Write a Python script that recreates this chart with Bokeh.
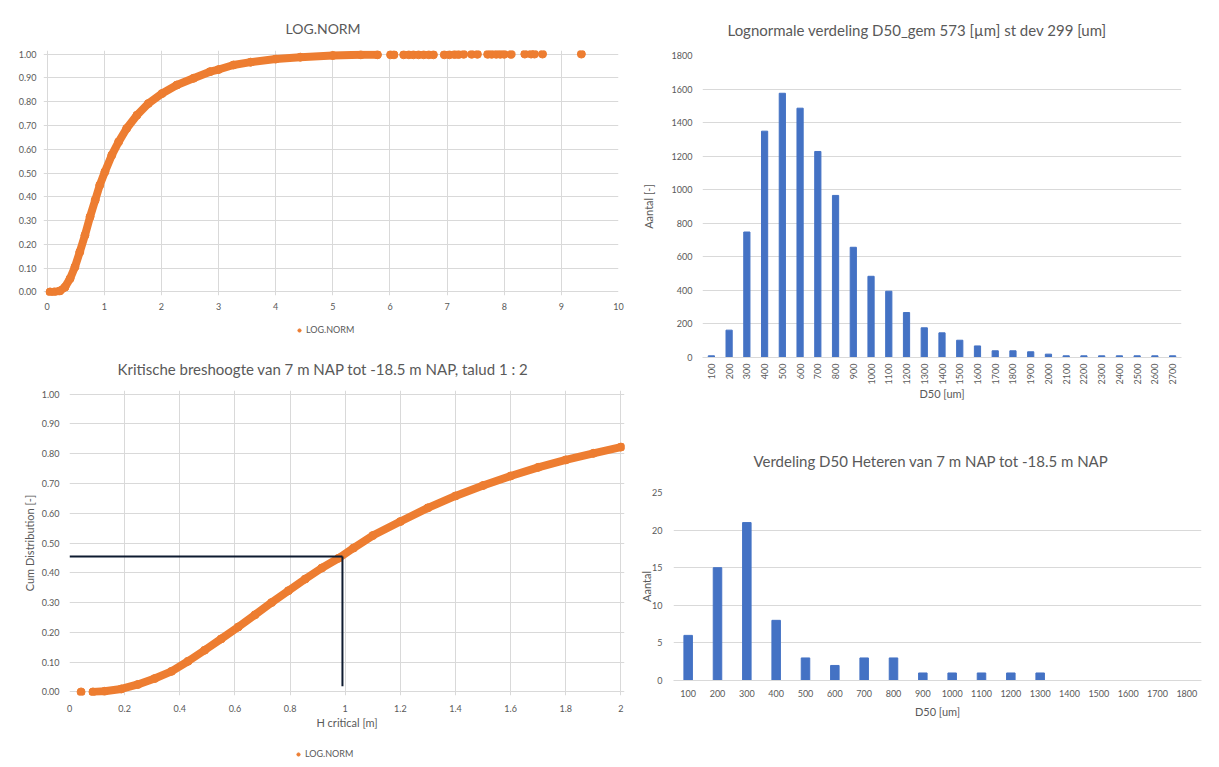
from bokeh.plotting import figure
from bokeh.layouts import row, column
from bokeh.models import (Range1d, FactorRange, NumeralTickFormatter, Legend, LegendItem,
                          Title, FixedTicker)
from bokeh.embed import file_html
from bokeh.resources import INLINE

FONT = "Lato"
TXT = "#595959"
GRID = "#d9d9d9"
ORANGE = "#ed7d31"
BLUE = "#4472c4"
DARK = "#0e1b30"

# ---------------- data ----------------
# top-left: LOG.NORM cumulative (dense part)
tl_x = [0.05, 0.12, 0.22, 0.31, 0.40, 0.485, 0.57, 0.66, 0.75, 0.84, 0.92, 1.01, 1.13, 1.25,
        1.39, 1.57, 1.77, 2.01, 2.27, 2.56, 2.85, 3.0, 3.26, 3.56, 4.0, 4.43, 5.0, 5.49, 5.78]
tl_y = [0.0, 0.0, 0.004, 0.02, 0.056, 0.105, 0.168, 0.238, 0.316, 0.386, 0.449, 0.505, 0.575, 0.631,
        0.687, 0.743, 0.792, 0.834, 0.870, 0.898, 0.926, 0.935, 0.954, 0.966, 0.979, 0.987, 0.994, 0.997, 0.997]
# top-left: sparse tail points
tl_tail_x = [6.01, 6.07, 6.24, 6.33, 6.41, 6.5, 6.59, 6.68, 6.76, 6.95, 7.04, 7.13, 7.2, 7.29,
             7.43, 7.53, 7.71, 7.78, 7.86, 7.93, 8.0, 8.12, 8.36, 8.47, 8.53, 8.67, 9.35]
tl_tail_y = [0.997, 0.997, 0.997, 0.997, 0.997, 0.997, 0.997, 0.997, 0.997, 0.997, 0.997, 0.998, 0.998, 0.999,
             0.999, 0.999, 0.999, 0.999, 0.999, 0.999, 0.999, 0.999, 1.0, 1.0, 1.0, 1.0, 1.0]

# bottom-left: H critical cumulative distribution
bl_x = [0.042, 0.085, 0.127, 0.188, 0.248, 0.309, 0.37, 0.43, 0.49, 0.55, 0.612, 0.673, 0.733, 0.794,
        0.855, 0.915, 0.976, 1.03, 1.1, 1.2, 1.3, 1.4, 1.5, 1.6, 1.7, 1.8, 1.9, 2.0]
bl_y = [0.0, 0.0, 0.002, 0.01, 0.025, 0.045, 0.069, 0.103, 0.14, 0.178, 0.218, 0.259, 0.30, 0.34,
        0.379, 0.416, 0.449, 0.483, 0.525, 0.572, 0.618, 0.658, 0.693, 0.725, 0.754, 0.779, 0.801, 0.822]
bl_ref_h_x = [0.0, 0.99]
bl_ref_h_y = [0.455, 0.455]
bl_ref_v_x = [0.99, 0.99]
bl_ref_v_y = [0.455, 0.019]

# top-right: lognormal histogram
tr_cats = ["100", "200", "300", "400", "500", "600", "700", "800", "900", "1000", "1100", "1200",
           "1300", "1400", "1500", "1600", "1700", "1800", "1900", "2000", "2100", "2200", "2300",
           "2400", "2500", "2600", "2700"]
tr_vals = [10, 163, 748, 1349, 1575, 1486, 1228, 966, 657, 484, 395, 268, 177, 147, 103, 69, 40, 40,
           34, 20, 10, 10, 10, 10, 10, 10, 10]

# bottom-right: measured D50 distribution
br_cats = ["100", "200", "300", "400", "500", "600", "700", "800", "900", "1000", "1100", "1200",
           "1300", "1400", "1500", "1600", "1700", "1800"]
br_vals = [6, 15, 21, 8, 3, 2, 3, 3, 1, 1, 1, 1, 1, 0, 0, 0, 0, 0]

y_ticks_01 = [0.0, 0.1, 0.2, 0.3, 0.4, 0.5, 0.6, 0.7, 0.8, 0.9, 1.0]


def make_fig(fw, fh, xr, yr, left, right, top, bottom, title, title_size, title_offset, title_standoff):
    p = figure(frame_width=fw, frame_height=fh, x_range=xr, y_range=yr, output_backend="svg",
               toolbar_location=None, min_border_left=left, min_border_right=right,
               min_border_top=top, min_border_bottom=bottom)
    p.title = Title(text=title, align="left", offset=title_offset, standoff=title_standoff,
                    text_font=FONT, text_font_size=title_size, text_font_style="normal", text_color=TXT)
    p.axis.major_tick_line_color = None
    p.axis.minor_tick_line_color = None
    p.axis.axis_line_color = None
    p.axis.major_label_text_font = FONT
    p.axis.major_label_text_font_size = "9px"
    p.axis.major_label_text_color = TXT
    p.axis.axis_label_text_font = FONT
    p.axis.axis_label_text_font_size = "11px"
    p.axis.axis_label_text_font_style = "normal"
    p.axis.axis_label_text_color = TXT
    p.grid.grid_line_color = GRID
    p.outline_line_color = None
    return p


def legend_fig(width, height, left, xs, ys, lx, ly):
    # a strip below a chart that holds only its legend (the series lies outside this strip's view)
    lf = figure(width=width, height=height, x_range=Range1d(-100, -99), y_range=Range1d(-100, -99),
                output_backend="svg", toolbar_location=None, min_border=0, min_border_left=left)
    lf.axis.visible = False
    lf.grid.visible = False
    lf.outline_line_color = None
    r = lf.scatter(xs, ys, size=8, color=ORANGE)
    leg = Legend(items=[LegendItem(label="LOG.NORM", renderers=[r])], location=(lx, ly),
                 orientation="horizontal", border_line_color=None, background_fill_alpha=0,
                 label_text_font=FONT, label_text_font_size="9px", label_text_color=TXT,
                 glyph_width=8, glyph_height=8, padding=0, margin=0, label_standoff=3,
                 label_height=10)
    lf.add_layout(leg)
    return lf


# ---------------- top-left ----------------
p1 = make_fig(575, 245, Range1d(-0.065, 10.0), Range1d(-0.015, 1.015), 43, 13, 50, 23,
              "LOG.NORM", "14px", 242, 27)
p1.xaxis.ticker = FixedTicker(ticks=[0, 1, 2, 3, 4, 5, 6, 7, 8, 9, 10])
p1.yaxis.ticker = FixedTicker(ticks=y_ticks_01)
p1.yaxis.formatter = NumeralTickFormatter(format="0.00")
p1.xaxis.major_label_standoff = 1
p1.yaxis.major_label_standoff = 1
p1.line(tl_x, tl_y, line_width=8, color=ORANGE, line_cap="round", line_join="round")
p1.scatter(tl_x, tl_y, size=8, color=ORANGE)
p1.scatter(tl_tail_x, tl_tail_y, size=8, color=ORANGE)
lg1 = legend_fig(631, 26, 43, tl_tail_x, tl_tail_y, 252, 9)

# ---------------- bottom-left ----------------
p2 = make_fig(555, 305, Range1d(0.0, 2.013), Range1d(-0.012, 1.012), 69, 7, 46, 41,
              "Kritische breshoogte van 7 m NAP tot -18.5 m NAP, talud 1 : 2", "15px", 48, 26)
p2.xaxis.ticker = FixedTicker(ticks=[0, 0.2, 0.4, 0.6, 0.8, 1.0, 1.2, 1.4, 1.6, 1.8, 2.0])
p2.xaxis.formatter = NumeralTickFormatter(format="0.[0]")
p2.yaxis.ticker = FixedTicker(ticks=y_ticks_01)
p2.yaxis.formatter = NumeralTickFormatter(format="0.00")
p2.xaxis.axis_label = "H critical [m]"
p2.yaxis.axis_label = "Cum Distribution [-]"
p2.xaxis.major_label_standoff = 3
p2.yaxis.major_label_standoff = 4
p2.xaxis.axis_label_standoff = 1
p2.yaxis.axis_label_standoff = 3
p2.line(bl_x[1:], bl_y[1:], line_width=8, color=ORANGE, line_cap="round", line_join="round")
p2.scatter(bl_x, bl_y, size=8, color=ORANGE)
p2.line(bl_ref_h_x, bl_ref_h_y, line_width=2, color=DARK)
p2.line(bl_ref_v_x, bl_ref_v_y, line_width=2, color=DARK)
lg2 = legend_fig(631, 30, 43, bl_x, bl_y, 251, 7)

# ---------------- top-right ----------------
p3 = make_fig(479, 302, FactorRange(*tr_cats, range_padding=0), Range1d(0, 1800), 71, 30, 55, 63,
              "Lognormale verdeling D50_gem 573 [µm] st dev 299 [um]", "15px", 25, 33)
p3.vbar(x=tr_cats, top=tr_vals, width=0.35, color=BLUE)
p3.xgrid.grid_line_color = None
p3.xaxis.axis_line_color = GRID
p3.yaxis.ticker = FixedTicker(ticks=[0, 200, 400, 600, 800, 1000, 1200, 1400, 1600, 1800])
p3.xaxis.major_label_orientation = 1.5708
p3.xaxis.axis_label = "D50 [um]"
p3.yaxis.axis_label = "Aantal [-]"
p3.yaxis.major_label_standoff = 4
p3.xaxis.major_label_standoff = 0
p3.xaxis.axis_label_standoff = 0
p3.yaxis.axis_label_standoff = 14

# ---------------- bottom-right ----------------
p4 = make_fig(528, 188, FactorRange(*br_cats, range_padding=0), Range1d(0, 25), 42, 10, 72, 82,
              "Verdeling D50 Heteren van 7 m NAP tot -18.5 m NAP", "15px", 80, 45)
p4.vbar(x=br_cats, top=br_vals, width=0.29, color=BLUE)
p4.xgrid.grid_line_color = None
p4.xaxis.axis_line_color = GRID
p4.yaxis.ticker = FixedTicker(ticks=[0, 5, 10, 15, 20, 25])
p4.xaxis.axis_label = "D50 [um]"
p4.yaxis.axis_label = "Aantal"
p4.yaxis.major_label_standoff = 5
p4.xaxis.major_label_standoff = 3
p4.xaxis.axis_label_standoff = 5
p4.yaxis.axis_label_standoff = -4

layout = row(column(row(p1), row(lg1), row(p2), row(lg2), spacing=0),
             column(row(p3), row(p4), spacing=0), spacing=0)

open("out.html", "w").write(file_html(layout, INLINE))
